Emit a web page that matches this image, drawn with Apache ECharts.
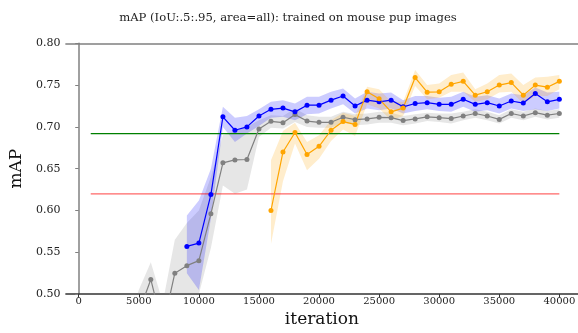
<!DOCTYPE html>
<html><head><meta charset="utf-8">
<script src="https://cdn.jsdelivr.net/npm/echarts@6/dist/echarts.min.js"></script>
<style>html,body{margin:0;padding:0;background:#fff}#c{width:578px;height:333px}</style>
</head><body><div id="c"></div>
<script>
// ---- data ----
const titleText = 'mAP (IoU:.5:.95, area=all): trained on mouse pup images';
const xTicks = [0,5000,10000,15000,20000,25000,30000,35000,40000];
const yTicks = [0.50,0.55,0.60,0.65,0.70,0.75,0.80];

const grayIter = [4000,5000,6000,7000,8000,9000,10000,11000,12000,13000,14000,15000,16000,17000,18000,19000,20000,21000,22000,23000,24000,25000,26000,27000,28000,29000,30000,31000,32000,33000,34000,35000,36000,37000,38000,39000,40000];
const grayMean = [0.45,0.478,0.5175,0.46,0.525,0.534,0.540,0.596,0.657,0.6605,0.661,0.6976,0.7067,0.705,0.7147,0.707,0.7055,0.7055,0.7115,0.7087,0.7095,0.7115,0.711,0.7076,0.7095,0.712,0.711,0.710,0.713,0.716,0.713,0.709,0.716,0.713,0.717,0.714,0.716];
const grayLo = [0.40,0.44,0.47,0.40,0.48,0.49,0.50,0.555,0.63,0.62,0.625,0.688,0.699,0.698,0.706,0.700,0.699,0.699,0.705,0.702,0.703,0.705,0.705,0.702,0.704,0.707,0.706,0.704,0.708,0.711,0.708,0.704,0.711,0.708,0.712,0.709,0.711];
const grayHi = [0.46,0.505,0.538,0.49,0.565,0.585,0.60,0.64,0.69,0.695,0.70,0.708,0.714,0.713,0.722,0.714,0.712,0.712,0.718,0.715,0.716,0.718,0.717,0.713,0.715,0.717,0.716,0.716,0.718,0.721,0.718,0.714,0.721,0.718,0.722,0.719,0.721];

const blueIter = [9000,10000,11000,12000,13000,14000,15000,16000,17000,18000,19000,20000,21000,22000,23000,24000,25000,26000,27000,28000,29000,30000,31000,32000,33000,34000,35000,36000,37000,38000,39000,40000];
const blueMean = [0.557,0.561,0.619,0.712,0.696,0.700,0.713,0.721,0.7225,0.718,0.726,0.726,0.732,0.737,0.725,0.732,0.730,0.732,0.724,0.728,0.729,0.727,0.727,0.733,0.727,0.729,0.725,0.731,0.7285,0.740,0.730,0.733];
const blueLo = [0.525,0.505,0.590,0.700,0.682,0.692,0.701,0.711,0.712,0.708,0.715,0.716,0.722,0.727,0.716,0.722,0.720,0.722,0.716,0.719,0.721,0.719,0.718,0.724,0.718,0.720,0.716,0.722,0.719,0.721,0.719,0.722];
const blueHi = [0.594,0.612,0.650,0.724,0.711,0.713,0.721,0.730,0.732,0.728,0.736,0.736,0.742,0.746,0.734,0.742,0.740,0.741,0.732,0.737,0.737,0.735,0.736,0.742,0.736,0.738,0.734,0.740,0.738,0.747,0.741,0.742];

const orangeIter = [16000,17000,18000,19000,20000,21000,22000,23000,24000,25000,26000,27000,28000,29000,30000,31000,32000,33000,34000,35000,36000,37000,38000,39000,40000];
const orangeMean = [0.600,0.670,0.6933,0.667,0.6768,0.696,0.7064,0.703,0.742,0.7336,0.718,0.7225,0.759,0.7415,0.742,0.751,0.7545,0.738,0.742,0.750,0.753,0.738,0.750,0.7475,0.7545];
const orangeLo = [0.56,0.635,0.68,0.648,0.662,0.683,0.697,0.689,0.727,0.722,0.708,0.713,0.749,0.733,0.735,0.742,0.742,0.730,0.733,0.741,0.742,0.728,0.737,0.737,0.745];
const orangeHi = [0.66,0.695,0.705,0.682,0.69,0.708,0.717,0.713,0.748,0.745,0.73,0.73,0.768,0.75,0.752,0.762,0.765,0.745,0.752,0.762,0.764,0.75,0.759,0.76,0.762];

const greenLine = {x:[1000,40000], y:0.692};
const redLine = {x:[1000,40000], y:0.620};

// ---- chart ----
const FONT = 'DejaVu Serif';
const chart = echarts.init(document.getElementById('c'), null, {renderer:'canvas'});
const pairs = (xs, ys) => xs.map((x,i)=>[x, ys[i]]);

function band(name, xs, lo, hi, color, z) {
  return {
    type:'custom', name, z, silent:true, clip:true,
    data: xs.map((x,i)=>[x, lo[i], hi[i]]),
    encode:{x:0, y:[1,2]},
    renderItem:(params, api) => {
      if (params.dataIndex !== 0) return null;
      const pts = [];
      for (let i=0;i<xs.length;i++) pts.push(api.coord([xs[i], hi[i]]));
      for (let i=xs.length-1;i>=0;i--) pts.push(api.coord([xs[i], lo[i]]));
      const cs = params.coordSys;
      return {
        type:'polygon', shape:{points:pts},
        style:{fill:color},
        clipPath:{type:'rect', shape:{x:cs.x, y:cs.y, width:cs.width, height:cs.height}}
      };
    }
  };
}
function meanLine(name, xs, ys, color, z) {
  return {
    type:'line', name, z, clip:true, data: pairs(xs, ys),
    symbol:'circle', symbolSize:5, showSymbol:true,
    lineStyle:{color, width:1.2}, itemStyle:{color},
    animation:false, silent:true
  };
}
function hLine(name, l, color, z) {
  return {
    type:'line', name, z, clip:true, data: l.x.map(x=>[x, l.y]),
    symbol:'none', lineStyle:{color, width:1.2}, animation:false, silent:true
  };
}

const xMin = -1067, xMax = 41544;
chart.setOption({
  animation:false,
  backgroundColor:'#fff',
  title:{text:titleText, left:283, top:7, textAlign:'center',
    textStyle:{fontFamily:FONT, fontSize:11.6, fontWeight:'normal', color:'#222'}},
  grid:{left:59, right:0, top:43.3, bottom:36.3, containLabel:false},
  xAxis:[{
    type:'value', min:xMin, max:xMax,
    name:'iteration', nameLocation:'middle', nameGap:16,
    nameTextStyle:{fontFamily:FONT, fontSize:17, color:'#111'},
    axisLine:{show:true, lineStyle:{color:'#333', width:1.5}},
    axisTick:{show:true, length:3.5, lineStyle:{color:'#333'}, customValues:xTicks},
    axisLabel:{fontFamily:FONT, fontSize:10, color:'#222', margin:2, customValues:xTicks,
      formatter:v=>String(v)},
    splitLine:{show:false}
  },{
    type:'value', position:'top', min:xMin, max:xMax,
    axisLine:{show:true, lineStyle:{color:'#808080', width:1.5}},
    axisTick:{show:false}, axisLabel:{show:false}, splitLine:{show:false}
  }],
  yAxis:{
    type:'value', min:0.5, max:0.8, interval:0.05,
    name:'mAP', nameLocation:'middle', nameGap:32, nameRotate:90,
    nameTextStyle:{fontFamily:FONT, fontSize:17, color:'#111'},
    axisLine:{show:true, lineStyle:{color:'#808080', width:1.5}},
    axisTick:{show:true, length:3.5, lineStyle:{color:'#808080'}},
    axisLabel:{fontFamily:FONT, fontSize:11, color:'#222', margin:5.5,
      formatter:v=>v.toFixed(2)},
    splitLine:{show:false}
  },
  series:[
    band('grayBand', grayIter, grayLo, grayHi, 'rgba(128,128,128,0.2)', 1),
    band('blueBand', blueIter, blueLo, blueHi, 'rgba(0,0,255,0.2)', 1),
    band('orangeBand', orangeIter, orangeLo, orangeHi, 'rgba(255,165,0,0.2)', 1),
    hLine('green', greenLine, '#008000', 2),
    hLine('red', redLine, 'rgba(255,0,0,0.6)', 2),
    meanLine('gray', grayIter, grayMean, '#808080', 3),
    meanLine('blue', blueIter, blueMean, '#0000ff', 3),
    meanLine('orange', orangeIter, orangeMean, '#ffa500', 3)
  ]
});
</script></body></html>
